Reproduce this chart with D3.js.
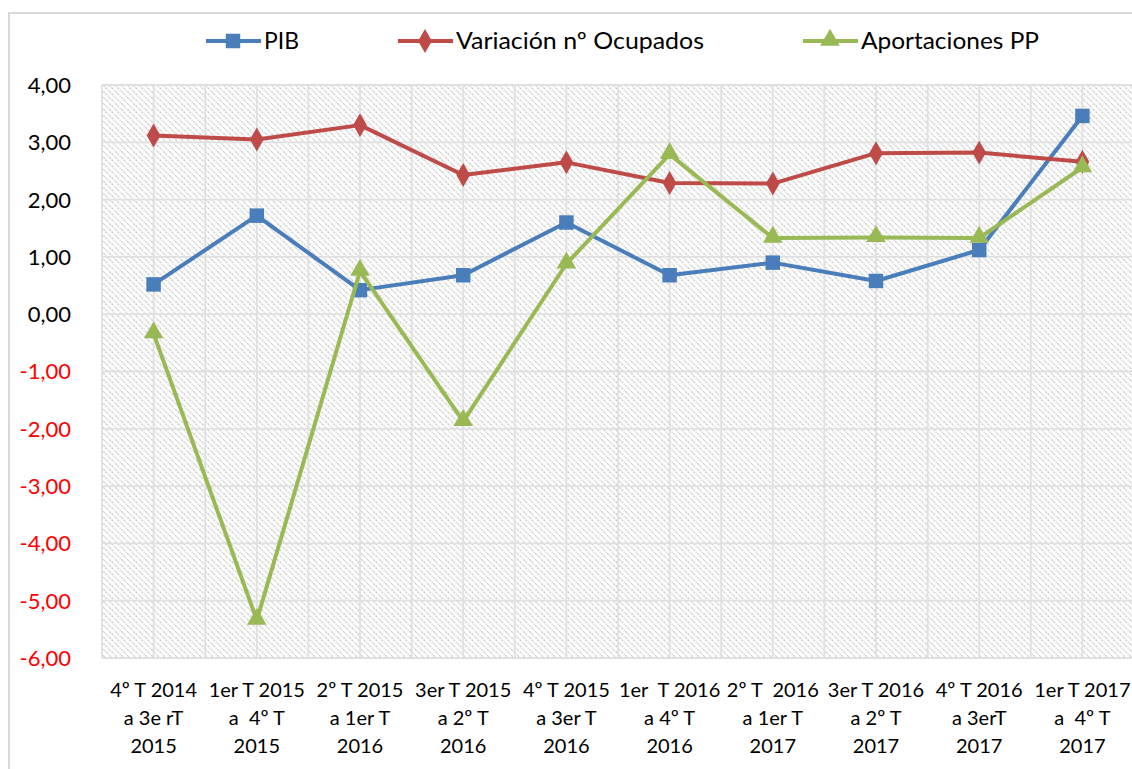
<!DOCTYPE html>
<html><head><meta charset="utf-8">
<script src="https://cdn.jsdelivr.net/npm/d3@7"></script>
<style>
html,body{margin:0;padding:0;background:#fff;}
svg{display:block;font-family:Lato,"Open Sans",sans-serif;}
</style></head>
<body><svg id="chart" width="1132" height="769"></svg>
<script>
const categories = [
  "4º T 2014\na 3e rT\n2015",
  "1er T 2015\na  4º T\n2015",
  "2º T 2015\na 1er T\n2016",
  "3er T 2015\na 2º T\n2016",
  "4º T 2015\na 3er T\n2016",
  "1er  T 2016\na 4º T\n2016",
  "2º T  2016\na 1er T\n2017",
  "3er T 2016\na 2º T\n2017",
  "4º T 2016\na 3erT\n2017",
  "1er T 2017\na  4º T\n2017"
];
const pib = [0.52, 1.72, 0.42, 0.68, 1.60, 0.68, 0.90, 0.58, 1.12, 3.46];
const ocupados = [3.12, 3.05, 3.30, 2.43, 2.65, 2.29, 2.28, 2.81, 2.82, 2.66];
const aportaciones = [-0.34, -5.34, 0.75, -1.87, 0.88, 2.79, 1.33, 1.34, 1.33, 2.56];
const yTicks = [4, 3, 2, 1, 0, -1, -2, -3, -4, -5, -6];
const seriesNames = ["PIB", "Variación nº Ocupados", "Aportaciones PP"];

const colors = ["#4a7ebb", "#be4b48", "#98b954"];
const series = [
  {name: seriesNames[0], values: pib, color: colors[0], sym: "square"},
  {name: seriesNames[1], values: ocupados, color: colors[1], sym: "diamond"},
  {name: seriesNames[2], values: aportaciones, color: colors[2], sym: "triangle"}
];

const svg = d3.select("#chart");
const L = 102, R = 1134, T = 85, B = 658;

// outer border
svg.append("rect").attr("x", 9).attr("y", 13).attr("width", 1140).attr("height", 780)
  .attr("fill", "none").attr("stroke", "#d9d9d9").attr("stroke-width", 2);

// hatch pattern
const defs = svg.append("defs");
const pat = defs.append("pattern").attr("id", "hatch").attr("patternUnits", "userSpaceOnUse")
  .attr("width", 6).attr("height", 6);
pat.append("rect").attr("width", 6).attr("height", 6).attr("fill", "#ffffff");
pat.append("path").attr("d", "M-1,-1 L7,7 M-7,-1 L1,7 M5,-1 L13,7")
  .attr("stroke", "#cbcbcb").attr("stroke-width", 1.3).attr("stroke-dasharray", "2.2,1");

const x = d3.scalePoint().domain(d3.range(categories.length)).range([L, R]).padding(0.5);
const y = d3.scaleLinear().domain([-6, 4]).range([B, T]);
const step = x.step();

svg.append("rect").attr("x", L).attr("y", T).attr("width", R - L).attr("height", B - T)
  .attr("fill", "url(#hatch)");

// gridlines
const g = svg.append("g");
g.selectAll("line.h").data(yTicks).join("line")
  .attr("x1", L).attr("x2", R).attr("y1", d => y(d)).attr("y2", d => y(d))
  .attr("stroke", "#e0e0e0").attr("stroke-width", 1.8);
const vpos = d3.range(categories.length * 2 + 1).map(i => L + i * step / 2);
g.selectAll("line.v").data(vpos).join("line")
  .attr("x1", d => d).attr("x2", d => d).attr("y1", T).attr("y2", B)
  .attr("stroke", "#e0e0e0").attr("stroke-width", 1.8);

// y axis labels
const fmt = v => d3.format(".2f")(Math.abs(v)).replace(".", ",");
svg.append("g").selectAll("text").data(yTicks).join("text")
  .attr("x", 71).attr("y", d => y(d)).attr("dy", "0.36em")
  .attr("text-anchor", "end").attr("font-size", 22)
  .attr("fill", d => d < 0 ? "#ff0000" : "#000")
  .text(d => (d < 0 ? "-" : "") + fmt(d));

// x axis labels
const xl = svg.append("g").selectAll("text").data(categories).join("text")
  .attr("text-anchor", "middle").attr("font-size", 20).attr("fill", "#000")
  .attr("style", "white-space:pre");
xl.each(function(d, i) {
  const t = d3.select(this);
  d.split("\n").forEach((line, k) => {
    t.append("tspan").attr("x", x(i)).attr("y", 697 + k * 28).text(line);
  });
});

// symbols
const symType = {square: d3.symbolSquare, diamond: d3.symbolDiamond, triangle: d3.symbolTriangle};
const symSize = {square: 210, diamond: 165, triangle: 165};

const line = d3.line().x((d, i) => x(i)).y(d => y(d));
series.forEach(s => {
  svg.append("path").attr("d", line(s.values)).attr("fill", "none")
    .attr("stroke", s.color).attr("stroke-width", 4).attr("stroke-linejoin", "round");
  svg.append("g").selectAll("path").data(s.values).join("path")
    .attr("transform", (d, i) => `translate(${x(i)},${y(d) + (s.sym === "triangle" ? -1 : 0)})`)
    .attr("d", d3.symbol().type(symType[s.sym]).size(symSize[s.sym]))
    .attr("fill", s.color);
});

// legend
const legendX = [206, 398, 803];
const legendW = [35, 248, 178];
const lg = svg.append("g");
series.forEach((s, i) => {
  const lx = legendX[i];
  lg.append("line").attr("x1", lx).attr("x2", lx + 55).attr("y1", 41).attr("y2", 41)
    .attr("stroke", s.color).attr("stroke-width", 4);
  lg.append("path").attr("transform", `translate(${lx + 27},${41 + (s.sym === "triangle" ? -1 : 0)})`)
    .attr("d", d3.symbol().type(symType[s.sym]).size(symSize[s.sym]))
    .attr("fill", s.color);
  lg.append("text").attr("x", lx + 58).attr("y", 41).attr("dy", "0.36em")
    .attr("font-size", 23).attr("fill", "#000")
    .attr("textLength", legendW[i]).attr("lengthAdjust", "spacingAndGlyphs")
    .text(s.name);
});
</script></body></html>
